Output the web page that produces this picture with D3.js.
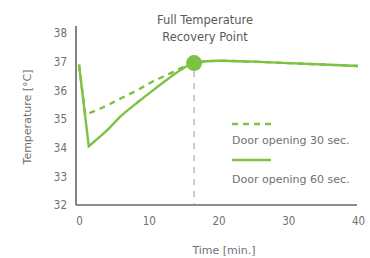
<!DOCTYPE html>
<html>
<head>
<meta charset="UTF-8" />
<title>Temperature recovery</title>
<script src="https://d3js.org/d3.v7.min.js"></script>
<style type="text/css">
body {
    margin: 0;
    background-color: #fff;
    font-family: "DejaVu Sans", sans-serif;
}
.axis text {
    fill: #707070;
    font-size: 11.5px;
    font-family: "DejaVu Sans Condensed", "DejaVu Sans", sans-serif;
}
.lbl {
    fill: #707070;
    font-size: 11px;
}
</style>
</head>
<body>
<svg width="370" height="258" id="svg1"></svg>
<script type="text/javascript">
// values
var time60 = [0, 1.4, 4, 6, 8.5, 10.6, 12.5, 14.5, 16.5, 20, 25, 30, 35, 40];
var temp60 = [36.9, 34.05, 34.6, 35.1, 35.6, 36.0, 36.35, 36.7, 36.95, 37.03, 37.0, 36.95, 36.9, 36.85];
var time30 = [0, 0.9, 3.4, 6, 8.3, 10.5, 13.0, 15, 16.5, 20, 25, 30, 35, 40];
var temp30 = [36.9, 35.15, 35.4, 35.72, 36.0, 36.3, 36.58, 36.82, 36.95, 37.03, 37.0, 36.95, 36.9, 36.85];
var xTicks = [0, 10, 20, 30, 40];
var yTicks = [32, 33, 34, 35, 36, 37, 38];
var recovery = {t: 16.5, v: 36.95};
var legendNames = ["Door opening 30 sec.", "Door opening 60 sec."];

var green = "#7dc243";
var svg = d3.select("#svg1");

var x = d3.scaleLinear().domain([0, 40]).range([79, 358]);
var y = d3.scaleLinear().domain([32, 38]).range([205, 33]);

// axes (no tick marks, labels only)
var xAxis = svg.append("g").attr("class", "axis")
    .attr("transform", "translate(0,205)")
    .call(d3.axisBottom(x).tickValues(xTicks).tickFormat(d3.format("d")).tickSize(0).tickPadding(12));
xAxis.select(".domain").remove();

var yAxis = svg.append("g").attr("class", "axis")
    .attr("transform", "translate(76,0)")
    .call(d3.axisLeft(y).tickValues(yTicks).tickFormat(d3.format("d")).tickSize(0).tickPadding(9));
yAxis.select(".domain").remove();

svg.append("line").attr("x1", 76).attr("x2", 76).attr("y1", 26).attr("y2", 205)
    .attr("stroke", "#666").attr("stroke-width", 1.6);
svg.append("line").attr("x1", 76).attr("x2", 357).attr("y1", 205).attr("y2", 205)
    .attr("stroke", "#666").attr("stroke-width", 1.6);

// recovery marker line
svg.append("line")
    .attr("x1", x(recovery.t)).attr("x2", x(recovery.t))
    .attr("y1", y(recovery.v) + 8).attr("y2", 205)
    .attr("stroke", "#999").attr("stroke-width", 1)
    .attr("stroke-dasharray", "6,6");

var dropLine = d3.line()
    .x(function(d) { return x(d[0]); })
    .y(function(d) { return y(d[1]); });
var riseLine = d3.line()
    .x(function(d) { return x(d[0]); })
    .y(function(d) { return y(d[1]); })
    .curve(d3.curveMonotoneX);

// straight drop to the minimum, then a smooth recovery
function pathOf(ts, vs) {
    var pts = d3.zip(ts, vs);
    var drop = dropLine(pts.slice(0, 2));
    var rise = riseLine(pts.slice(1));
    return drop + "L" + rise.slice(1);
}

svg.append("path")
    .attr("d", pathOf(time30, temp30))
    .attr("fill", "none").attr("stroke", green)
    .attr("stroke-width", 2.4).attr("stroke-dasharray", "6,5");

svg.append("path")
    .attr("d", pathOf(time60, temp60))
    .attr("fill", "none").attr("stroke", green)
    .attr("stroke-width", 2.4);

svg.append("circle")
    .attr("cx", x(recovery.t)).attr("cy", y(recovery.v))
    .attr("r", 8).attr("fill", green);

// annotation
svg.append("text").attr("class", "lbl").attr("x", 205).attr("y", 24)
    .attr("text-anchor", "middle").style("font-size", "11.5px").style("fill", "#5a5a5a").text("Full Temperature");
svg.append("text").attr("class", "lbl").attr("x", 205).attr("y", 41)
    .attr("text-anchor", "middle").style("font-size", "11.5px").style("fill", "#5a5a5a").text("Recovery Point");

// legend
svg.append("line").attr("x1", 232).attr("x2", 271).attr("y1", 124).attr("y2", 124)
    .attr("stroke", green).attr("stroke-width", 2.4).attr("stroke-dasharray", "6,5");
svg.append("text").attr("class", "lbl").attr("x", 232).attr("y", 144).text(legendNames[0]);
svg.append("line").attr("x1", 232).attr("x2", 271).attr("y1", 160).attr("y2", 160)
    .attr("stroke", green).attr("stroke-width", 2.4);
svg.append("text").attr("class", "lbl").attr("x", 232).attr("y", 183).text(legendNames[1]);

// axis titles
svg.append("text").attr("class", "lbl").attr("x", 224).attr("y", 254)
    .attr("text-anchor", "middle").text("Time [min.]");
svg.append("text").attr("class", "lbl")
    .attr("transform", "translate(31,117) rotate(-90)")
    .attr("text-anchor", "middle").text("Temperature [°C]");
</script>
</body>
</html>
